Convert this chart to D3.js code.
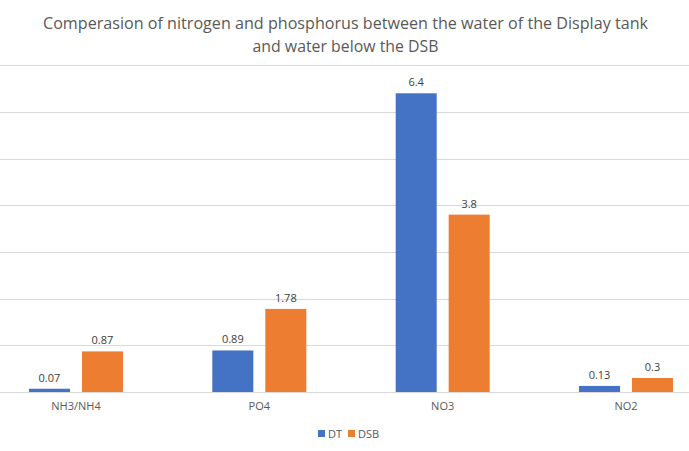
<!DOCTYPE html>
<html>
<head>
<meta charset="utf-8">
<script src="https://cdn.jsdelivr.net/npm/d3@7"></script>
<style>
  body { margin: 0; background: #fff; }
  text { font-family: "Open Sans", sans-serif; }
</style>
</head>
<body>
<svg id="chart"></svg>
<script>
const categories = ["NH3/NH4", "PO4", "NO3", "NO2"];
const seriesNames = ["DT", "DSB"];
const dtValues = [0.07, 0.89, 6.4, 0.13];
const dsbValues = [0.87, 1.78, 3.8, 0.3];
const valueLabels = [["0.07", "0.87"], ["0.89", "1.78"], ["6.4", "3.8"], ["0.13", "0.3"]];
const titleLines = ["Comperasion of nitrogen and phosphorus between the water of the Display tank", "and water below the DSB"];

const width = 689, height = 451;
const colors = ["#4472c4", "#ed7d31"];

const svg = d3.select("#chart").attr("width", width).attr("height", height);

const x = d3.scaleBand().domain(categories).range([-15.7, 717.7]).padding(0);
const inner = d3.scaleBand().domain(seriesNames).range([0, 94]).paddingInner(0.226);
const y = d3.scaleLinear().domain([0, 7]).range([392, 65.3]);

// gridlines
svg.append("g")
    .selectAll("line")
    .data(y.ticks(7))
    .join("line")
    .attr("x1", 0).attr("x2", width)
    .attr("y1", d => Math.round(y(d)) + 0.5)
    .attr("y2", d => Math.round(y(d)) + 0.5)
    .attr("stroke", "#d9d9d9")
    .attr("stroke-width", 1);

const rows = categories.map((c, i) => ({ cat: c, vals: [dtValues[i], dsbValues[i]], labels: valueLabels[i] }));

const groups = svg.append("g")
    .selectAll("g")
    .data(rows)
    .join("g")
    .attr("transform", d => `translate(${x(d.cat) + x.bandwidth() / 2 - 47},0)`);

groups.selectAll("rect")
    .data(d => d.vals.map((v, j) => ({ s: seriesNames[j], v, j })))
    .join("rect")
    .attr("x", d => inner(d.s))
    .attr("width", inner.bandwidth())
    .attr("y", d => y(d.v))
    .attr("height", d => y(0) - y(d.v))
    .attr("fill", d => colors[d.j]);

groups.selectAll("text")
    .data(d => d.vals.map((v, j) => ({ s: seriesNames[j], v, label: d.labels[j] })))
    .join("text")
    .attr("x", d => inner(d.s) + inner.bandwidth() / 2)
    .attr("y", d => y(d.v) - 7)
    .attr("text-anchor", "middle")
    .attr("font-size", 11)
    .attr("fill", "#404040")
    .text(d => d.label);

// baseline
svg.append("line")
    .attr("x1", 0).attr("x2", width)
    .attr("y1", 392.5).attr("y2", 392.5)
    .attr("stroke", "#d9d9d9");

// category axis
const xAxis = svg.append("g")
    .attr("transform", "translate(0,392)")
    .call(d3.axisBottom(x).tickSize(0).tickPadding(10));
xAxis.select(".domain").remove();
xAxis.selectAll("text")
    .attr("font-size", 11)
    .attr("fill", "#595959")
    .style("font-family", "\"Open Sans\", sans-serif");

// title
const titleWidths = [605, 186];
svg.append("g")
    .selectAll("text")
    .data(titleLines)
    .join("text")
    .attr("x", width / 2 + 1)
    .attr("y", (d, i) => 29 + i * 23)
    .attr("text-anchor", "middle")
    .attr("font-size", 17)
    .attr("textLength", (d, i) => titleWidths[i])
    .attr("lengthAdjust", "spacingAndGlyphs")
    .attr("fill", "#595959")
    .text(d => d);

// legend
const legend = svg.append("g").attr("transform", "translate(318,434)");
const items = legend.selectAll("g")
    .data(seriesNames)
    .join("g")
    .attr("transform", (d, i) => `translate(${i * 30},0)`);
items.append("rect")
    .attr("x", 0).attr("y", -4)
    .attr("width", 7).attr("height", 7)
    .attr("fill", (d, i) => colors[i]);
items.append("text")
    .attr("x", 10).attr("y", 4)
    .attr("font-size", 11)
    .attr("fill", "#595959")
    .text(d => d);
</script>
</body>
</html>
